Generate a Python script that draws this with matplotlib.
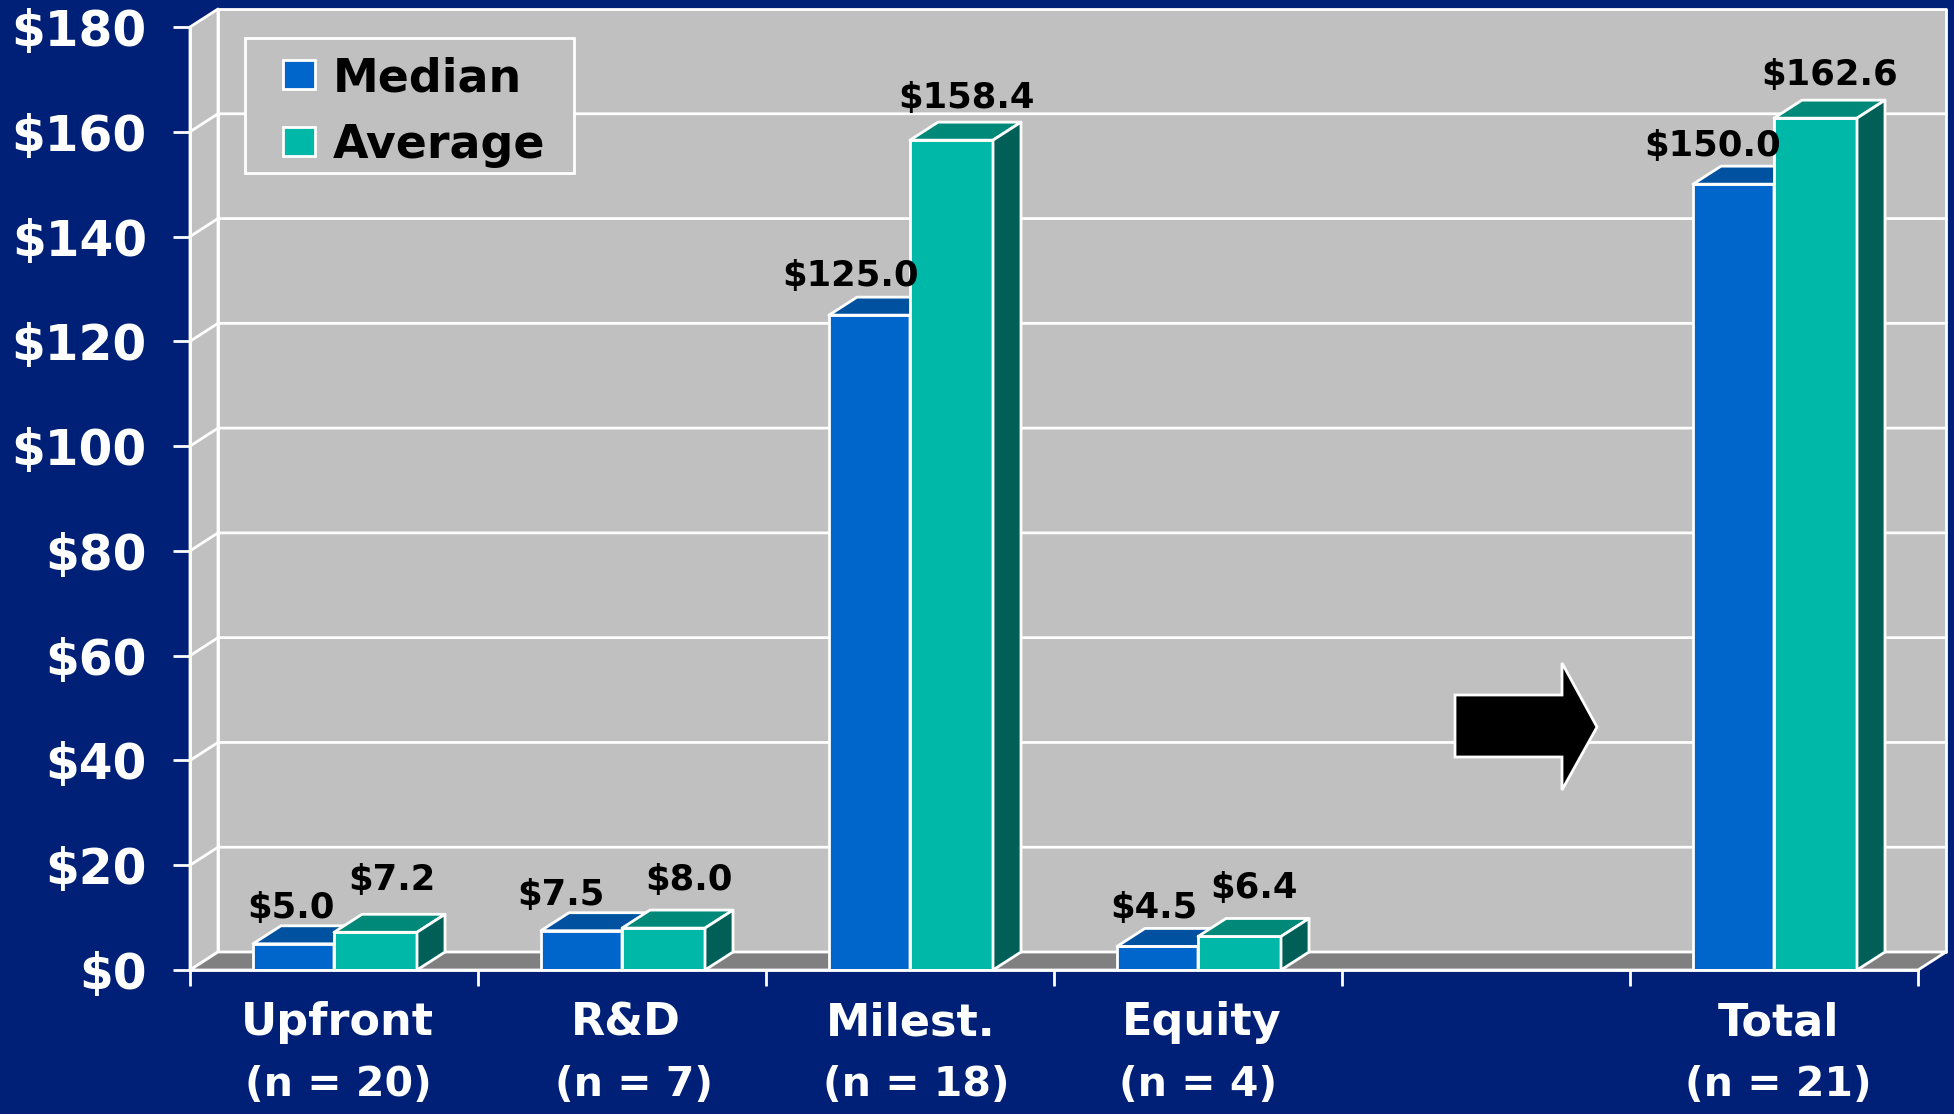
import matplotlib
matplotlib.use("Agg")
import matplotlib.pyplot as plt
from matplotlib.patches import Patch, Polygon, Rectangle
from matplotlib.ticker import FuncFormatter

W, H = 1954, 1114

categories = ["Upfront", "R&D", "Milest.", "Equity", "", "Total"]
counts = [20, 7, 18, 4, None, 21]
median = [5.0, 7.5, 125.0, 4.5, None, 150.0]
average = [7.2, 8.0, 158.4, 6.4, None, 162.6]
yticks = list(range(0, 181, 20))

# label offsets from the top of each bar, in pixels
median_off = [(-2, 36), (-20, 36), (-18, 39), (-3, 38), None, (-20, 38)]
average_off = [(16, 52), (25, 48), (15, 42), (14, 48), None, (14, 43)]
# the two lines under the axis are not quite centred in the original
name_off = [3, 4, 1, 4, 0, 4]
count_off = [4, 12, 6, 0, 0, 4]

NAVY = "#002078"
GREY = "#C0C0C0"
FLOOR = "#808080"
BLUE = ("#0066CC", "#00519F", "#003F80")
TEAL = ("#00B8A8", "#008878", "#006058")
FONT = ["DejaVu Sans"]
PX = 0.72  # points per pixel at dpi 100

plt.rcParams["font.family"] = FONT
plt.rcParams["font.weight"] = "bold"

fig = plt.figure(figsize=(W / 100, H / 100), dpi=100, facecolor=NAVY)
ax = fig.add_axes([190 / W, 1 - 970 / H, (1918 - 190) / W, (970 - 27) / H])
ax.set_facecolor("none")
ax.set_xlim(0, 6)
ax.set_ylim(0, 180)

# depth of the fake 3d box, in data units
dx = 28 / 288
dy = 18 / (943 / 180)
LW = 2


def poly(pts, fc, z):
    ax.add_patch(Polygon(pts, closed=True, facecolor=fc, edgecolor="white",
                         linewidth=LW, zorder=z, clip_on=False, joinstyle="round"))


# walls and floor
poly([(0, 0), (dx, dy), (dx, 180 + dy), (0, 180)], GREY, 1)
poly([(dx, dy), (6 + dx, dy), (6 + dx, 180 + dy), (dx, 180 + dy)], GREY, 1)
poly([(0, 0), (dx, dy), (6 + dx, dy), (6, 0)], FLOOR, 1.5)
for v in yticks[1:-1]:
    ax.plot([0, dx, 6 + dx], [v, v + dy, v + dy], color="white", lw=LW,
            zorder=2, clip_on=False)

bw_m = 81 / 288
bw_a = 83 / 288


def box3d(x, h, bw, cols, z):
    ax.bar(x, h, bw, align="edge", facecolor=cols[0], edgecolor="white",
           linewidth=LW, zorder=z)
    poly([(x, h), (x + dx, h + dy), (x + bw + dx, h + dy), (x + bw, h)], cols[1], z)
    poly([(x + bw, 0), (x + bw + dx, dy), (x + bw + dx, h + dy), (x + bw, h)], cols[2], z)


for i in range(len(categories)):
    if median[i] is None:
        continue
    box3d(i + 0.5 - bw_m, median[i], bw_m, BLUE, 3)
    box3d(i + 0.5, average[i], bw_a, TEAL, 4)
    ax.annotate(f"${median[i]:.1f}", (i + 0.5 - bw_a / 2, median[i]),
                xytext=(median_off[i][0] * PX, median_off[i][1] * PX),
                textcoords="offset points", ha="center", va="center",
                fontsize=25.5, color="black", zorder=6, annotation_clip=False)
    ax.annotate(f"${average[i]:.1f}", (i + 0.5 + bw_a / 2, average[i]),
                xytext=(average_off[i][0] * PX, average_off[i][1] * PX),
                textcoords="offset points", ha="center", va="center",
                fontsize=25.5, color="black", zorder=6, annotation_clip=False)
    ax.annotate(categories[i], (i + 0.5, 0), xytext=(name_off[i] * PX, -53 * PX),
                textcoords="offset points", ha="center", va="center",
                fontsize=32, color="white", annotation_clip=False)
    ax.annotate(f"(n = {counts[i]})", (i + 0.5, 0), xytext=(count_off[i] * PX, -115 * PX),
                textcoords="offset points", ha="center", va="center",
                fontsize=29.5, color="white", annotation_clip=False)

# axes
for s in ("top", "right"):
    ax.spines[s].set_visible(False)
for s in ("left", "bottom"):
    ax.spines[s].set_color("white")
    ax.spines[s].set_linewidth(LW)
    ax.spines[s].set_zorder(5)
ax.set_xticks(range(7))
ax.set_xticklabels([])
ax.set_yticks(yticks)
ax.yaxis.set_major_formatter(FuncFormatter(lambda v, p: f"${v:.0f}"))
ax.tick_params(axis="x", length=11.5, width=LW, color="white")
ax.tick_params(axis="y", length=12, width=LW, color="white", labelcolor="white",
               labelsize=35, pad=19)

# arrow between the parts and the total
arrow = [(1455, 695), (1562, 695), (1562, 663), (1597, 727), (1562, 790),
         (1562, 757), (1455, 757)]
fig.add_artist(Polygon([(x / W, 1 - y / H) for x, y in arrow], closed=True, facecolor="black",
                       edgecolor="white", linewidth=LW, transform=fig.transFigure, zorder=7))

# legend frame is drawn apart, the original has more room left and right than above
ax.add_patch(Rectangle((245 / W, 1 - 173 / H), (574 - 245) / W, (173 - 38) / H,
                       transform=fig.transFigure, facecolor=GREY, edgecolor="white",
                       linewidth=LW, zorder=7, clip_on=False))
handles = [Patch(facecolor=BLUE[0], edgecolor="white", linewidth=LW, label="Median"),
           Patch(facecolor=TEAL[0], edgecolor="white", linewidth=LW, label="Average")]
leg = ax.legend(handles=handles, loc="upper left", bbox_to_anchor=(283 / W, 1 - 56 / H),
                bbox_transform=fig.transFigure, fontsize=33, frameon=False, handlelength=0.7,
                handleheight=0.59, handletextpad=0.39, borderpad=0, borderaxespad=0,
                labelspacing=0.47, labelcolor="black")
leg.set_zorder(8)

fig.savefig("out.png", dpi=100, facecolor=NAVY)
